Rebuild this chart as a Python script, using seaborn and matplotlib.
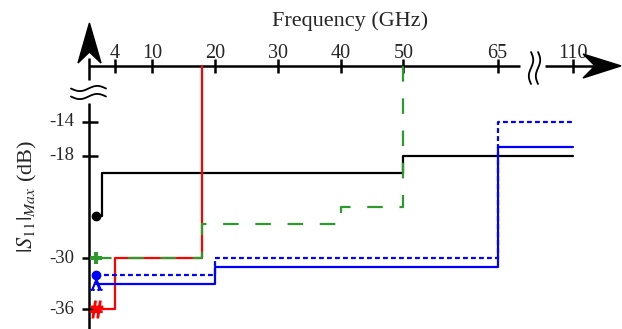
import numpy as np
import pandas as pd
import matplotlib
matplotlib.use("Agg")
import matplotlib.pyplot as plt
import seaborn as sns
from matplotlib.patches import Polygon

sns.set_style("white")
plt.rcParams['font.family'] = ['Liberation Serif', 'DejaVu Serif']
plt.rcParams['mathtext.fontset'] = 'stix'

# level of the frequency axis (lines that run off the scale go up to it)
AXIS_DB = -7.4

# step curves: corner frequencies (GHz) and |S11|max (dB)
black_f = [1, 2, 2, 50, 50, 110]
black_db = [-25, -25, -20, -20, -18, -18]
red_f = [1, 4, 4, 18, 18]
red_db = [-36, -36, -30, -30, AXIS_DB]
green_f = [1, 18, 18, 40, 40, 50, 50]
green_db = [-30, -30, -26, -26, -24, -24, AXIS_DB]
bluedot_f = [1, 20, 20, 65, 65, 110]
bluedot_db = [-32, -32, -30, -30, -14, -14]
blue_f = [1, 20, 20, 65, 65, 110]
blue_db = [-33, -33, -31, -31, -17, -17]

x_ticks = [4, 10, 20, 30, 40, 50, 65, 110]
y_ticks = [-14, -18, -30, -36]


def fpos(f):
    # broken axis: above 65 GHz the scale is squeezed
    f = np.asarray(f, dtype=float)
    return np.where(f <= 65, f, 65 + (f - 65) * 12 / 45)


# pixel -> data helpers for the hand-drawn axis decorations
def dx(px):
    return px / 6.28 - 14.24


def dy(py):
    return 0.35 - py / 8.5


fig = plt.figure(figsize=(6.22, 3.29), dpi=100)
ax = fig.add_axes([0, 0, 1, 1])
ax.set_xlim(-14.24, 84.8)
ax.set_ylim(-38.35, 0.35)
ax.axis('off')

series = [
    (black_f, black_db, 'black', '-'),
    (red_f, red_db, '#ff0000', '-'),
    (blue_f, blue_db, '#0000ff', '-'),
    (bluedot_f, bluedot_db, '#0000ff', (0, (2.2, 1.4))),
    (green_f, green_db, '#2e9a2e', (0, (7, 7.5))),
]
for f, db, col, ls in series:
    df = pd.DataFrame({'f': fpos(f), 'db': db})
    sns.lineplot(data=df, x='f', y='db', sort=False, estimator=None,
                 color=col, linewidth=1.6, linestyle=ls, ax=ax, zorder=3)

# start markers
ax.plot(black_f[0], black_db[0], 'o', color='black', ms=6, zorder=4)
ax.plot(red_f[0], red_db[0], marker='$\\#$', color='#ff0000', ms=12, zorder=4)
ax.plot(green_f[0], green_db[0], marker='P', color='#2e9a2e', ms=9, mew=0, zorder=4)
ax.plot(bluedot_f[0], bluedot_db[0], 'o', color='#0000ff', ms=6, zorder=4)
ax.plot(blue_f[0], blue_db[0], marker='$\\Lambda$', color='#0000ff', ms=8, zorder=4)

# axes lines
lk = dict(color='black', lw=1.8, solid_capstyle='butt', zorder=2)
ax.plot([0, 0], [dy(58), dy(80)], **lk)
ax.plot([0, 0], [dy(103), dy(335)], **lk)
ax.plot([0, dx(520)], [AXIS_DB, AXIS_DB], **lk)
ax.plot([dx(545), dx(600)], [AXIS_DB, AXIS_DB], **lk)

# arrow heads
ax.add_patch(Polygon([[0, dy(23)], [dx(78), dy(63)], [0, dy(52)], [dx(101), dy(63)]],
                     closed=True, color='black', zorder=5))
ax.add_patch(Polygon([[dx(621), AXIS_DB], [dx(583), dy(54)], [dx(595), AXIS_DB], [dx(583), dy(78)]],
                     closed=True, color='black', zorder=5))

# break marks
t = np.linspace(0, 2 * np.pi, 60)
wx = np.linspace(dx(71), dx(106), 60)
for yc in (88.5, 96.5):
    ax.plot(wx, dy(yc + 2.6 * np.sin(t)), color='black', lw=1.3, zorder=2)
wy = np.linspace(dy(52), dy(84), 60)
for xc in (531, 538):
    ax.plot(dx(xc + 2.2 * np.sin(t)), wy, color='black', lw=1.3, zorder=2)

# ticks and labels
for v in x_ticks:
    p = float(fpos(v))
    ax.plot([p, p], [dy(59), dy(73)], **lk)
    ax.text(p, dy(57.5), str(v), ha='center', va='baseline', fontsize=14.5)
for v in y_ticks:
    ax.text(dx(74), v, str(v), ha='right', va='center', fontsize=13.5)
    ax.plot([dx(82), dx(98)], [v, v], **lk)

ax.text(dx(350), dy(21), 'Frequency (GHz)', ha='center', va='center', fontsize=16)
ax.text(dx(27), dy(196), r'$|S_{11}|_{Max}$ (dB)', ha='center', va='center',
        rotation=90, fontsize=16)

fig.savefig('out.png', dpi=100)
